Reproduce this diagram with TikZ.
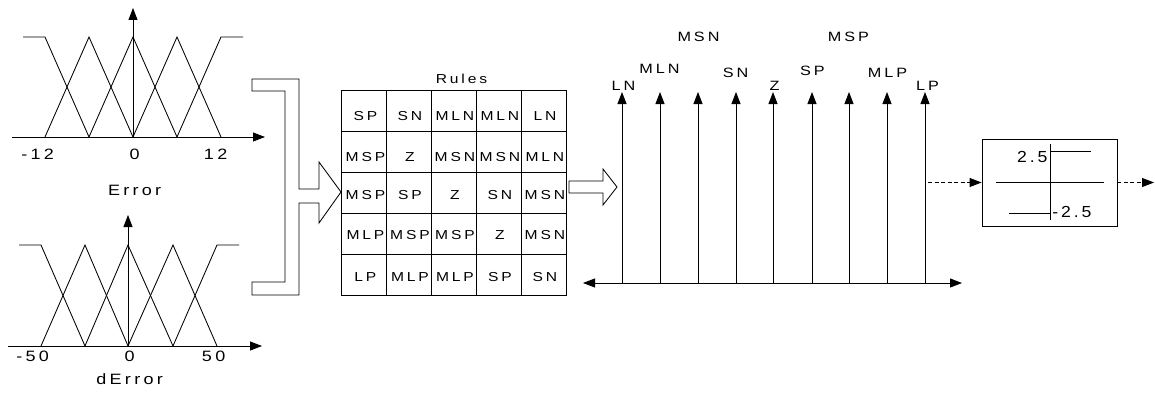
\documentclass[tikz,border=0pt]{standalone}
\usepackage{fontspec}
\setmainfont{Liberation Sans}
\newfontfamily\lsf[LetterSpace=22,FakeStretch=1.2]{Liberation Sans}
\newfontfamily\lsb[LetterSpace=18,FakeStretch=1.1]{Liberation Sans}
\usetikzlibrary{arrows.meta}
\begin{document}
\begin{tikzpicture}[x=1pt,y=-1pt,line width=0.85pt,
  tip/.style={-{Triangle[length=12pt,width=9pt]}},
  dtip/.style={{Triangle[length=12pt,width=9pt]}-{Triangle[length=12pt,width=9pt]}},
  txt/.style={inner sep=0pt,font=\fontsize{13}{13}\lsf,execute at end node={\kern-0.22em}},
  atxt/.style={txt,font=\fontsize{15}{15}\lsf},
  ttxt/.style={txt,font=\fontsize{13.5}{13.5}\lsf},
  btxt/.style={inner sep=0pt,font=\fontsize{16}{16}\lsb,execute at end node={\kern-0.18em}},
  cellbox/.style={draw,minimum width=45pt,minimum height=41pt,inner sep=0pt,outer sep=0pt},
  dash arrow/.style={dashed,dash pattern=on 4pt off 2.5pt,-{Triangle[length=12pt,width=9pt]}}
]
\useasboundingbox (0,0) rectangle (1155,396);
% ---------- Error membership ----------
\coordinate (eo) at (133,137);
\coordinate (ex) at (265,137);
\coordinate (ey) at (133,8);
\coordinate (exl) at (12,137);
\draw[tip] (exl) -- (ex);
\draw[tip] (eo) -- (ey);
\draw (23,37) -- (45,37) -- (89,137);
\draw (45,137) -- (89,37) -- (133,137);
\draw (89,137) -- (133,37) -- (177,137);
\draw (133,137) -- (177,37) -- (221,137);
\draw (177,137) -- (221,37) -- (243,37);
\node[atxt] (em12) at (36,154) {-12};
\node[atxt] (e0) at (133,154) {0};
\node[atxt] (e12) at (214,154) {12};
\node[atxt] (etitle) at (133,190) {Error};
% ---------- dError membership ----------
\coordinate (do) at (128,346);
\coordinate (dx) at (262,346);
\coordinate (dy) at (128,215);
\coordinate (dxl) at (8,346);
\draw[tip] (dxl) -- (dx);
\draw[tip] (do) -- (dy);
\draw (19,245) -- (41,245) -- (85,346);
\draw (41,346) -- (85,245) -- (128,346);
\draw (85,346) -- (128,245) -- (173,346);
\draw (128,346) -- (173,245) -- (217,346);
\draw (173,346) -- (217,245) -- (239,245);
\node[atxt] (dm50) at (31,356) {-50};
\node[atxt] (d0) at (128,356) {0};
\node[atxt] (d50) at (212,356) {50};
\node[atxt] (dtitle) at (128,379) {dError};
% ---------- bracket arrow ----------
\draw (252,79) -- (299,79) -- (299,189) -- (319,189) -- (319,162) -- (341,192)
  -- (319,223) -- (319,203) -- (299,203) -- (299,295) -- (252,295) -- (252,282)
  -- (285,282) -- (285,91) -- (252,91) -- cycle;
% ---------- rules table ----------
\node[txt] (rules) at (460,79) {Rules};
\foreach \r/\y in {1/110.5,2/151.5,3/192.5,4/233.5,5/274.5}{
  \foreach \c/\x in {1/364,2/408.5,3/453.5,4/498.5,5/543.5}{
    \node[cellbox] (c\r\c) at (\x,\y) {};
  }
}
\foreach \c/\a/\b/\d/\e/\f in {1/SP/MSP/MSP/MLP/LP,2/SN/Z/SP/MSP/MLP,3/MLN/MSN/Z/MSP/MLP,4/MLN/MSN/SN/Z/SP,5/LN/MLN/MSN/MSN/SN}{
  \node[txt] (t1\c) at ([yshift=-5.5pt]c1\c.center) {\a};
  \node[txt] (t2\c) at ([yshift=-5.5pt]c2\c.center) {\b};
  \node[txt] (t3\c) at ([yshift=-3pt]c3\c.center) {\d};
  \node[txt] (t4\c) at ([yshift=-1.5pt]c4\c.center) {\e};
  \node[txt] (t5\c) at ([yshift=-2.5pt]c5\c.center) {\f};
}
% ---------- hollow arrow ----------
\draw (569,181) -- (603,181) -- (603,169) -- (617,187) -- (603,205) -- (603,193) -- (569,193) -- cycle;
% ---------- output singletons ----------
\coordinate (hl) at (583,283);
\coordinate (hr) at (962,283);
\draw[dtip] (hl) -- (hr);
\foreach \i/\x in {1/622,2/660,3/698,4/736,5/773,6/812,7/849,8/887,9/925}{
  \coordinate (b\i) at (\x,283);
  \coordinate (a\i) at (\x,92);
  \draw[tip] (b\i) -- (a\i);
}
\node[ttxt] (lLN) at (622,86) {LN};
\node[ttxt] (lMLN) at (658,69) {MLN};
\node[ttxt] (lMSN) at (697,37) {MSN};
\node[ttxt] (lSN) at (734,73) {SN};
\node[ttxt] (lZ) at (773,86) {Z};
\node[ttxt] (lSP) at (811,71) {SP};
\node[ttxt] (lMSP) at (847,37) {MSP};
\node[ttxt] (lMLP) at (886,73) {MLP};
\node[ttxt] (lLP) at (926,86) {LP};
% ---------- saturation block ----------
\node[draw,minimum width=135pt,minimum height=87pt,inner sep=0pt] (sat) at (1049.5,182.5) {};
\coordinate (din) at (928,182.5);
\coordinate (dout) at (1154,182.5);
\draw[dash arrow] (din) -- (sat.west);
\draw[dash arrow] (sat.east) -- (dout);
\draw (1050,144) -- (1050,220);
\draw (996,182.5) -- (1104,182.5);
\draw (1050,151) -- (1091,151);
\draw (1009,213) -- (1050,213);
\node[btxt,anchor=east] (p25) at (1045,157) {2.5};
\node[btxt,anchor=west] (m25) at (1052,212) {-2.5};
\end{tikzpicture}
\end{document}
